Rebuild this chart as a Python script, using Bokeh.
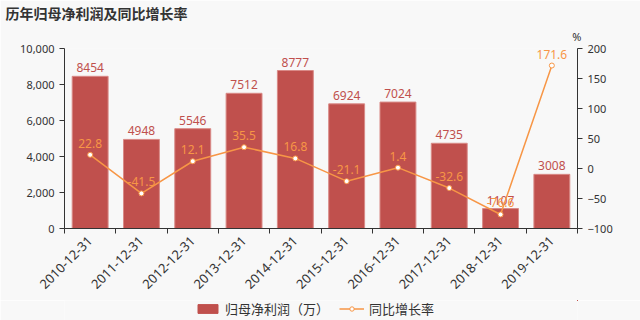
from bokeh.plotting import figure
from bokeh.layouts import column
from bokeh.models import (Range1d, LinearAxis, FixedTicker, NumeralTickFormatter,
                          ColumnDataSource, Legend, LegendItem, Title)
from bokeh.core.properties import value
from bokeh.embed import file_html
from bokeh.resources import INLINE
import math

categories = ["2010-12-31", "2011-12-31", "2012-12-31", "2013-12-31", "2014-12-31",
              "2015-12-31", "2016-12-31", "2017-12-31", "2018-12-31", "2019-12-31"]
profit = [8454, 4948, 5546, 7512, 8777, 6924, 7024, 4735, 1107, 3008]
growth = [22.8, -41.5, 12.1, 35.5, 16.8, -21.1, 1.4, -32.6, -76.6, 171.6]
left_ticks = [0, 2000, 4000, 6000, 8000, 10000]
right_ticks = [-100, -50, 0, 50, 100, 150, 200]
series_names = ["归母净利润（万）", "同比增长率"]

BAR = "#c0504d"
LINE = "#f79646"
BG = "#f8f8f8"
TXT = "#333333"
CJK = "Noto Sans CJK SC"
NUM = "Noto Sans"

n = len(categories)
xs = [i + 0.5 for i in range(n)]

src = ColumnDataSource(dict(x=xs, profit=profit, growth=growth,
                            plabel=[str(v) for v in profit],
                            glabel=[str(v) for v in growth]))

p = figure(width=640, height=300, output_backend="svg", toolbar_location=None,
           x_range=Range1d(0, n), y_range=Range1d(0, 10000),
           background_fill_color=BG, border_fill_color=BG, outline_line_color=None,
           min_border_left=64, min_border_right=63, min_border_top=47, min_border_bottom=72)
p.extra_y_ranges = {"y2": Range1d(-100, 200)}
p.xgrid.visible = False
p.ygrid.visible = False

p.title.text = "历年归母净利润及同比增长率"
p.title.text_font = CJK
p.title.text_font_size = "14px"
p.title.text_font_style = "bold"
p.title.text_color = TXT
p.title.align = "left"
p.title.offset = -59
p.title.standoff = 0

pct = Title(text="%", align="right", offset=-4, text_font=NUM,
            text_font_size="11px", text_font_style="normal", text_color=TXT, standoff=9)
p.add_layout(pct, "above")

bars = p.vbar(x="x", top="profit", width=0.7, source=src, fill_color=BAR,
              line_color="#d98a87", line_width=1)
p.text(x="x", y="profit", text="plabel", source=src, text_align="center",
       text_baseline="bottom", y_offset=-4, text_color=BAR, text_font_size="12px",
       text_font=value(NUM))

line = p.line(x="x", y="growth", source=src, color=LINE, line_width=1.5, y_range_name="y2")
p.scatter(x="x", y="growth", source=src, size=5, fill_color="white", line_color=LINE,
          line_width=1, y_range_name="y2")
p.text(x="x", y="growth", text="glabel", source=src, text_align="center",
       text_baseline="bottom", y_offset=-7, text_color=LINE, text_font_size="12px",
       text_font=value(NUM), y_range_name="y2")

# x axis
xa = p.xaxis[0]
xa.ticker = FixedTicker(ticks=xs, minor_ticks=list(range(n + 1)))
xa.major_label_overrides = {x: c for x, c in zip(xs, categories)}
xa.major_label_orientation = math.pi / 4
xa.major_tick_out = 0
xa.major_tick_in = 0
xa.minor_tick_out = 5
xa.minor_tick_in = 0
xa.minor_tick_line_color = TXT
xa.axis_line_color = TXT
xa.major_label_text_color = TXT
xa.major_label_text_font_size = "13px"
xa.major_label_text_font = NUM

ya = p.yaxis[0]
ya.ticker = FixedTicker(ticks=left_ticks)
ya.formatter = NumeralTickFormatter(format="0,0")
ya.major_tick_out = 5
ya.major_tick_in = 0
ya.minor_tick_out = 0
ya.minor_tick_in = 0
ya.axis_line_color = TXT
ya.major_tick_line_color = TXT
ya.major_label_text_color = TXT
ya.major_label_text_font_size = "11px"
ya.major_label_text_font = NUM

ra = LinearAxis(y_range_name="y2", ticker=FixedTicker(ticks=right_ticks))
ra.major_tick_out = 5
ra.major_tick_in = 0
ra.minor_tick_out = 0
ra.minor_tick_in = 0
ra.axis_line_color = TXT
ra.major_tick_line_color = TXT
ra.major_label_text_color = TXT
ra.major_label_text_font_size = "11px"
ra.major_label_text_font = NUM
p.add_layout(ra, "right")

# legend strip (separate figure below the chart); its glyphs draw the same
# data but lie outside this strip's visible ranges, so only the legend shows
lg = figure(width=640, height=20, output_backend="svg", toolbar_location=None,
            x_range=Range1d(-100, -99), y_range=Range1d(-1e6, -1e6 + 1),
            x_axis_location=None, y_axis_location=None,
            background_fill_color=BG, border_fill_color=BG, outline_line_color=None,
            min_border_left=0, min_border_right=0, min_border_top=0, min_border_bottom=0)
lg.xgrid.visible = False
lg.ygrid.visible = False
lb = lg.vbar(x="x", top="profit", width=0.7, source=src, color=BAR)
ll = lg.line(x="x", y="growth", source=src, color=LINE, line_width=1.5)
lc = lg.scatter(x="x", y="growth", source=src, size=9, fill_color="white",
                line_color=LINE, line_width=1)
legend = Legend(items=[LegendItem(label=series_names[0], renderers=[lb]),
                       LegendItem(label=series_names[1], renderers=[ll, lc])],
                orientation="horizontal", location=(131, 2),
                background_fill_alpha=0, border_line_color=None,
                label_text_font=CJK, label_text_font_size="13px", label_text_color=TXT,
                label_height=16, glyph_width=25, glyph_height=11, spacing=10,
                padding=0, margin=0, label_standoff=5)
lg.add_layout(legend, "center")

layout = column(p, lg, spacing=0)
open("out.html", "w").write(file_html(layout, INLINE))
